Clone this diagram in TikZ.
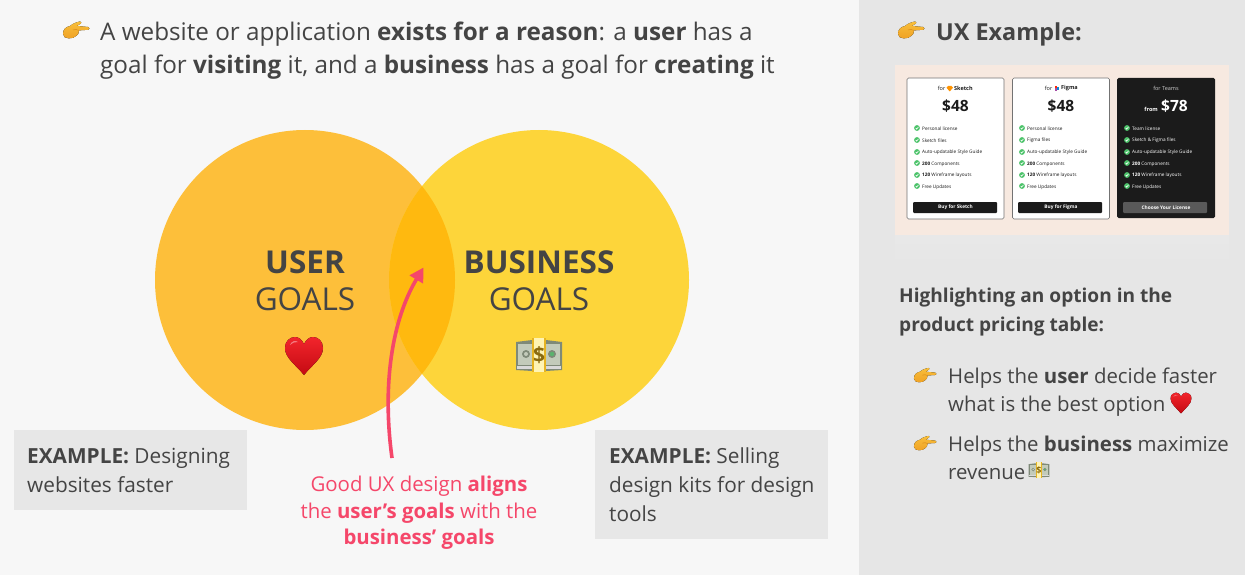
\documentclass[tikz,border=0pt]{standalone}
\usepackage{fontspec}
\setmainfont{Open Sans}
\usetikzlibrary{arrows.meta}
\definecolor{ink}{HTML}{444444}
\definecolor{pink}{HTML}{F5476A}
\definecolor{leftbg}{HTML}{F7F7F7}
\definecolor{rightbg}{HTML}{E6E6E6}
\definecolor{boxbg}{HTML}{E7E7E7}
\definecolor{usercol}{HTML}{FDBF3A}
\definecolor{bizcol}{HTML}{FDD53A}
\definecolor{mixcol}{HTML}{FFB90F}
\definecolor{cream}{HTML}{F7E9E0}
\definecolor{cardink}{HTML}{1B1B1B}
\definecolor{okgreen}{HTML}{4CC36A}
\definecolor{handcol}{HTML}{F8BE3A}
\definecolor{handlow}{HTML}{EFA024}
\definecolor{handdark}{HTML}{D98A18}
\definecolor{heartcol}{HTML}{F2252C}
\definecolor{heartlow}{HTML}{C40A12}
\definecolor{cashedge}{HTML}{7F8A78}
\definecolor{cashcol}{HTML}{C3CBBA}
\definecolor{bandgold}{HTML}{E6B422}
\definecolor{bandin}{HTML}{FFF4B4}
\definecolor{dollar}{HTML}{8A6A10}
\tikzset{
  txt/.style={anchor=base west,inner sep=0pt,text=ink,font=\fontsize{#1}{#1}\selectfont},
  boldtxt/.style={anchor=base west,inner sep=0pt,text=ink,font=\fontsize{#1}{#1}\selectfont\bfseries},
  tiny/.style={anchor=west,inner sep=0pt,font=\fontsize{4.7}{5}\selectfont},
  price/.style={anchor=base,inner sep=0pt,font=\fontsize{15.5}{16}\selectfont\bfseries},
  cardhead/.style={inner sep=0pt,font=\fontsize{5.5}{6}\selectfont},
  btnlabel/.style={anchor=center,inner sep=0pt,font=\fontsize{4.8}{5}\selectfont\bfseries},
  goalhead/.style={anchor=base,inner sep=0pt,text=ink,font=\fontsize{31.5}{32}\selectfont},
  pinktext/.style={anchor=base,inner sep=0pt,text=pink,font=\fontsize{20.4}{21}\selectfont},
  examplebox/.style={fill=boxbg,draw=none},
  card/.style={fill=white,draw=black!55,line width=0.6pt,rounded corners=1.5pt},
  darkcard/.style={fill=cardink,draw=none,rounded corners=1.5pt},
}
\newcommand{\emhand}[3]{\begin{scope}[shift={(#1,#2)},scale=#3]
  \fill[top color=handcol,bottom color=handlow] (-13,3) .. controls (-13,-2) and (-10,-4) .. (-6,-5)
    .. controls (-3,-8) and (2,-9) .. (4,-9.5) .. controls (6,-9.5) and (6,-7.5) .. (3,-6.4)
    -- (1,-5) -- (12,-4) .. controls (14,-3.6) and (14,-1.4) .. (12,-1.2) -- (3,-0.6)
    .. controls (3,2) and (2,4) .. (0,5) .. controls (-2,8) and (-13,9) .. (-13,3) -- cycle;
  \draw[handdark,line width=0.5pt] (-3,-1) .. controls (-1,-2) and (1,-1.5) .. (3,-0.6);
\end{scope}}
\newcommand{\emheart}[3]{\begin{scope}[shift={(#1,#2)},scale=#3]
  \fill[top color=heartcol,bottom color=heartlow] (0,19) .. controls (-8,9) and (-19,2) .. (-19,-8)
    .. controls (-19,-15) and (-14,-19) .. (-9,-19)
    .. controls (-5,-19) and (-2,-16) .. (0,-12)
    .. controls (2,-16) and (5,-19) .. (9,-19)
    .. controls (14,-19) and (19,-15) .. (19,-8)
    .. controls (19,2) and (8,9) .. (0,19) -- cycle;
  \fill[white,opacity=0.4] (-14,-11) .. controls (-13,-15) and (-8,-16) .. (-6,-14)
    .. controls (-9,-14.5) and (-12,-13) .. (-14,-11) -- cycle;
\end{scope}}
\newcommand{\emcash}[4]{\begin{scope}[shift={(#1,#2)},scale=#3]
  \fill[cashedge] (-23,-13) -- (-7,-15) -- (7,-15) -- (23,-13) -- (23,15) -- (7,16) -- (-7,16) -- (-23,15) -- cycle;
  \fill[cashcol] (-21,-11) -- (21,-11) -- (21,10) -- (-21,10) -- cycle;
  \fill[cashedge] (-13,-1) circle (4) (13,-1) circle (4);
  \fill[cashcol] (-13,-1) circle (2);
  \fill[okgreen!70!cashedge] (13,-1) circle (2.2);
  \fill[white!85!black] (-22,11) rectangle (22,14);
  \fill[bandgold] (-7,-17) rectangle (7,17);
  \fill[bandin] (-5,-17) rectangle (5,17);
  \node[inner sep=0pt,text=dollar,font=\fontsize{#4}{#4}\selectfont\bfseries] at (0,0) {\$};
\end{scope}}
\newcommand{\emcheck}[2]{\fill[okgreen] (#1,#2) circle (2.9);
  \draw[white,line width=0.6pt] (#1-1.3,#2) -- (#1-0.3,#2+1.1) -- (#1+1.4,#2-1.1);}
\begin{document}
\begin{tikzpicture}[x=1pt,y=-1pt]
\useasboundingbox (0,0) rectangle (1245,575);
\fill[leftbg] (0,0) rectangle (859,575);
\fill[rightbg] (859,0) rectangle (1245,575);

% title
\emhand{76}{31}{1}
\node[txt=24.25] (t1) at (100,41) {A website or application \textbf{exists for a reason}: a \textbf{user} has a};
\node[txt=24.25] (t2) at (100,74) {goal for \textbf{visiting} it, and a \textbf{business} has a goal for \textbf{creating} it};

% venn
\fill[usercol] (305,280) circle (150);
\fill[bizcol] (539,280) circle (150);
\begin{scope}
  \clip (305,280) circle (150);
  \fill[mixcol] (539,280) circle (150);
\end{scope}
\node[goalhead] (u1) at (305,273) {\textbf{USER}};
\node[goalhead] (u2) at (305,310) {GOALS};
\node[goalhead] (b1) at (539,273) {\textbf{BUSINESS}};
\node[goalhead] (b2) at (539,310) {GOALS};
\emheart{304}{356}{1}
\emcash{539}{355}{1}{21}

% example boxes
\fill[examplebox] (14,430) rectangle (247,510);
\fill[examplebox] (595,430) rectangle (828,539);
\node[txt=20.8] (e1) at (27,463) {\textbf{EXAMPLE:} Designing};
\node[txt=20.8] (e2) at (27,492) {websites faster};
\node[txt=20.8] (e3) at (609,463) {\textbf{EXAMPLE:} Selling};
\node[txt=20.8] (e4) at (609,492) {design kits for design};
\node[txt=20.8] (e5) at (609,521) {tools};

% pink
\node[pinktext] (p1) at (419,491) {Good UX design \textbf{aligns}};
\node[pinktext] (p2) at (419,518) {the \textbf{user’s goals} with the};
\node[pinktext] (p3) at (419,544) {\textbf{business’ goals}};
\coordinate (arrowstart) at (392,458);
\coordinate (arrowend) at (423.5,267.5);
\draw[pink,line width=3.6pt,-{Triangle[length=14pt,width=15pt]}] (arrowstart) .. controls (382,385) and (392,320) .. (arrowend);

% right panel
\emhand{911}{31}{1}
\node[boldtxt=23.4] (ux) at (936,41) {UX Example:};
\fill[top color=black!9,bottom color=rightbg] (895,235) rectangle (1229,266);
\fill[cream] (895,65) rectangle (1229,235);

% cards
\node[card,minimum width=97pt,minimum height=141pt,inner sep=0pt] (c1) at (955.5,148.5) {};
\node[card,minimum width=97pt,minimum height=141pt,inner sep=0pt] (c2) at (1061,148.5) {};
\node[darkcard,minimum width=98pt,minimum height=140pt,inner sep=0pt] (c3) at (1166,148) {};
\foreach \cx/\ct/\cc/\lic/\fls/\btn/\bc in {
   912/955.5/cardink/Personal license/Sketch files/Buy for Sketch/cardink,
   1017/1061/cardink/Personal license/Figma files/Buy for Figma/cardink,
   1122/1166/white/Team license/Sketch \& Figma files/Choose Your License/black!65}{
  \emcheck{\cx+5}{128}\emcheck{\cx+5}{140}\emcheck{\cx+5}{152}\emcheck{\cx+5}{163}\emcheck{\cx+5}{175}\emcheck{\cx+5}{186}
  \node[tiny,text=\cc] at (\cx+10,128.5) {\lic};
  \node[tiny,text=\cc] at (\cx+10,140.5) {\fls};
  \node[tiny,text=\cc] at (\cx+10,152.5) {Auto-updatable Style Guide};
  \node[tiny,text=\cc] at (\cx+10,164) {\textbf{200} Components};
  \node[tiny,text=\cc] at (\cx+10,175.5) {\textbf{120} Wireframe layouts};
  \node[tiny,text=\cc] at (\cx+10,187) {Free Updates};
  \fill[\bc,rounded corners=1pt] (\cx+1,202) rectangle (\cx+85,213);
  \node[btnlabel,text=white] at (\ct,207.5) {\btn};
}
\node[cardhead,text=cardink,anchor=east] (h1a) at (945.5,88.5) {for};
\node[cardhead,text=cardink,anchor=west] (h1b) at (954,88.5) {\textbf{Sketch}};
\fill[orange!85!yellow] (948,86) -- (951.5,86) -- (953,87.7) -- (949.7,91.5) -- (946.5,87.7) -- cycle;
\node[cardhead,text=cardink,anchor=east] (h2a) at (1052.5,88.5) {for};
\node[cardhead,text=cardink,anchor=west] (h2b) at (1061,88.5) {\textbf{Figma}};
\fill[red!70!orange] (1054.5,86) rectangle (1056.5,88.5);
\fill[violet!70] (1054.5,88.5) rectangle (1056.5,91);
\fill[cyan!70!blue] (1056.5,87) rectangle (1058.5,90.5);
\node[cardhead,text=white!80!black,anchor=center] (h3) at (1166,88.5) {for Teams};
\node[price,text=cardink] (pr1) at (955.5,112) {\$48};
\node[price,text=cardink] (pr2) at (1061,112) {\$48};
\node[price,text=white,anchor=base west] (pr3) at (1161,112) {\$78};
\node[anchor=base east,inner sep=0pt,text=white,font=\fontsize{5.5}{6}\selectfont\bfseries] (pr4) at (1158,112) {from};

% right text
\node[boldtxt=19.1] (h4) at (899,302) {Highlighting an option in the};
\node[boldtxt=19.1] (h5) at (899,331) {product pricing table:};
\emhand{925}{376}{0.85}
\node[txt=20.4] (l1) at (948,383) {Helps the \textbf{user} decide faster};
\node[txt=20.4] (l2) at (948,411) {what is the best option};
\emheart{1181}{403}{0.55}
\emhand{925}{444}{0.85}
\node[txt=20.4] (l3) at (948,451) {Helps the \textbf{business} maximize};
\node[txt=20.4] (l4) at (948,479) {revenue};
\emcash{1039}{470}{0.45}{9}
\end{tikzpicture}
\end{document}
